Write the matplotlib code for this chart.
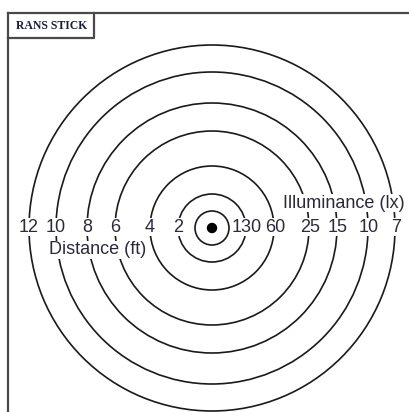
import matplotlib
matplotlib.use('Agg')
import matplotlib.pyplot as plt
from matplotlib.patches import Circle

# Anillos (radio en px de la figura), del centro hacia afuera
ring_radius = [17, 34, 62, 97, 125, 156, 183]

# Etiquetas sobre los anillos 2..7 (lado izquierdo: distancia, derecho: iluminancia)
distance_ft = ['2', '4', '6', '8', '10', '12']
illuminance_lx = ['130', '60', '25', '15', '10', '7']

cx, cy = 212, 228

fig = plt.figure(figsize=(4.10, 4.12), dpi=100)
ax = fig.add_axes([0, 0, 1, 1])
ax.set_xlim(0, 410)
ax.set_ylim(412, 0)
ax.set_aspect('equal')
ax.axis('off')

# Marco
ax.plot([8, 8], [13, 412], color='#4a4a4a', lw=1.6)
ax.plot([8, 410], [13, 13], color='#4a4a4a', lw=1.6)
ax.plot([94, 94, 8], [13, 38, 38], color='#4a4a4a', lw=1.6)
ax.text(52, 26, 'RANS STICK', ha='center', va='center', fontsize=8.5,
        fontweight='bold', family='Liberation Serif', color='#1c1c3c')

# Anillos
for r in ring_radius:
    ax.add_patch(Circle((cx, cy), r, fill=False, ec='#1a1a1a', lw=1.2))
ax.add_patch(Circle((cx, cy), 4.5, color='black'))

box = dict(boxstyle='square,pad=0.02', fc='white', ec='none')
lab = dict(ha='center', va='center', fontsize=13, family='Liberation Sans',
           color='#2a2a3a', bbox=box)
for r, t in zip(ring_radius[1:], distance_ft):
    ax.text(cx - r, cy - 1, t, **lab)
for r, t in zip(ring_radius[1:], illuminance_lx):
    ax.text(cx + r + 1, cy - 1, t, **lab)

ax.text(98, 250, 'Distance (ft)', ha='center', va='center', fontsize=13,
        family='Liberation Sans', color='#2a2a3a', bbox=box)
ax.text(344, 203, 'Illuminance (lx)', ha='center', va='center', fontsize=13,
        family='Liberation Sans', color='#2a2a3a', bbox=box)

fig.savefig('out.png', dpi=100)
